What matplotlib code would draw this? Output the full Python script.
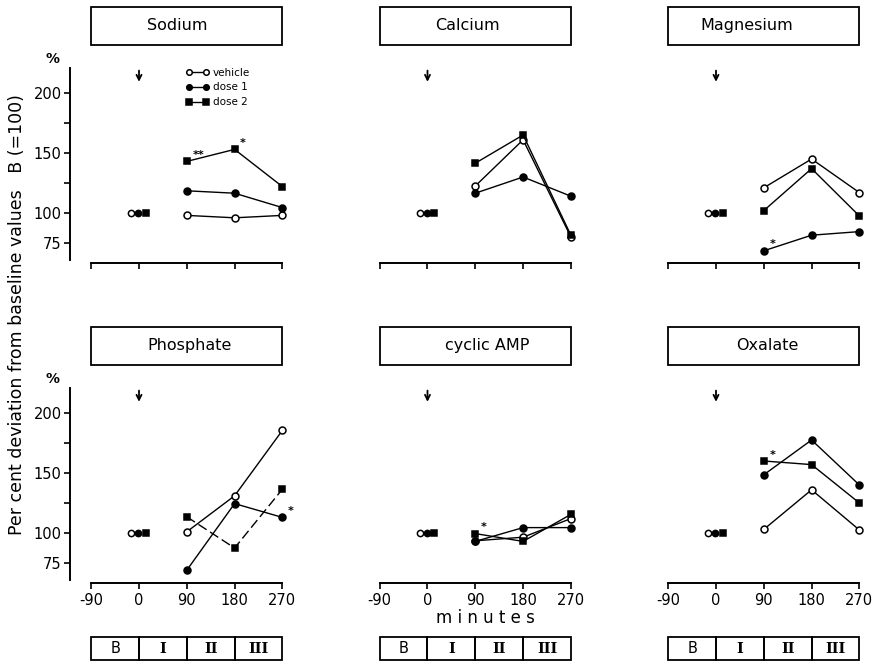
import matplotlib
matplotlib.use("Agg")
import matplotlib.pyplot as plt
from matplotlib.patches import Rectangle

# --- data: per cent of baseline (B = 100) ---
PANELS = ["Sodium", "Calcium", "Magnesium", "Phosphate", "cyclic AMP", "Oxalate"]
TIMES = [90, 180, 270]
BASELINE = 100

VEHICLE = [
    [98, 96, 98],
    [122.5, 161, 80],
    [121, 145, 117],
    [101, 131, 185.5],
    [93.5, 96.5, 112],
    [103, 136, 102.5],
]
DOSE1 = [
    [118.5, 116.5, 104.5],
    [116.5, 130, 114],
    [68.5, 81.5, 84.5],
    [69, 124.5, 113],
    [93, 104.5, 104.5],
    [148.5, 177.5, 140],
]
DOSE2 = [
    [143, 153, 122],
    [141.5, 165, 81.5],
    [102, 137, 97.5],
    [113.5, 87.5, 136.5],
    [99.5, 93, 115.5],
    [160, 157, 125],
]

# significance marks: (panel, series, time index, mark)
SIGNIF = [
    (0, "dose 2", 0, "**"),
    (0, "dose 2", 1, "*"),
    (2, "dose 1", 0, "*"),
    (3, "dose 1", 2, "*"),
    (4, "dose 2", 0, "*"),
    (5, "dose 2", 0, "*"),
]

XTICKS = [-90, 0, 90, 180, 270]
XTICK_LABELS = ["-90", "0", "90", "180", "270"]
YTICKS = [75, 100, 150, 200]
YTICKS_MINOR = [125, 175]
PERIODS = ["B", "I", "II", "III"]
PERIOD_EDGES = [-90, 0, 90, 180, 270]

# --- layout (pixels of an 872x667 figure) ---
W, H = 872, 667
COL_LEFT = [67.3, 355.8, 644.3]
ROW_BOTTOM = [263.4, 583.4]
AX_W, AX_H = 220.4, 200.4
TITLE_X = [72, 76, 57, 96, 112, 96]
BASE_DX = [-15, -1, 13]

STYLE = {
    "vehicle": dict(marker="o", mfc="white", mec="black"),
    "dose 1": dict(marker="o", mfc="black", mec="black"),
    "dose 2": dict(marker="s", mfc="black", mec="black"),
}


def setup_axes(ax, bottom_row, first_col):
    """Spines, ticks and limits of one panel."""
    ax.set_xlim(-135, 280)
    ax.set_ylim(58, 225)
    for s in ("top", "right"):
        ax.spines[s].set_visible(False)
    ax.spines["bottom"].set_bounds(-90, 270)
    ax.spines["bottom"].set_linewidth(1.4)
    ax.set_xticks(XTICKS)
    if bottom_row:
        ax.set_xticklabels(XTICK_LABELS)
    else:
        ax.set_xticklabels([])
    ax.tick_params(axis="x", length=4, width=1.2, labelsize=10.5, pad=3)
    if first_col:
        ax.spines["left"].set_position(("data", -130))
        ax.spines["left"].set_bounds(61, 221)
        ax.spines["left"].set_linewidth(1.4)
        ax.set_yticks(YTICKS)
        ax.set_yticks(YTICKS_MINOR, minor=True)
        ax.tick_params(axis="y", which="both", length=4, width=1.2,
                       labelsize=10.5, pad=2)
        ax.text(-162, 228, "%", fontsize=10, fontweight="bold",
                ha="center", va="center", clip_on=False)
    else:
        ax.spines["left"].set_visible(False)
        ax.set_yticks([])


def draw_panel(ax, i):
    """Draws the three series of one panel."""
    series = [("vehicle", VEHICLE[i]), ("dose 1", DOSE1[i]), ("dose 2", DOSE2[i])]
    lines = {}
    for (label, vals), dx in zip(series, BASE_DX):
        st = STYLE[label]
        ls = (0, (7, 3)) if (label == "dose 2" and PANELS[i] == "Phosphate") else "-"
        ax.plot(TIMES, vals, color="black", lw=1.0, ls=ls, ms=5,
                mew=1.1, label=label, **st)
        lines[label] = vals
        ax.plot([dx], [BASELINE], ls="none", ms=4.5, mew=1.1, **st)

    for p, lab, k, mark in SIGNIF:
        if p == i:
            ax.annotate(mark, (TIMES[k], lines[lab][k]), xytext=(4, 1),
                        textcoords="offset points", fontsize=8,
                        fontweight="bold", ha="left", va="bottom")

    # injection arrow at t = 0
    ax.annotate("", xy=(0, 207), xytext=(0, 221),
                arrowprops=dict(arrowstyle="->", lw=1.3, color="black",
                                mutation_scale=9))

    # title box
    ax.add_patch(Rectangle((-90, 240), 360, 32, fill=False, lw=1.3,
                           ec="black", clip_on=False))
    ax.text(TITLE_X[i], 256, PANELS[i], fontsize=11.5, ha="center",
            va="center", clip_on=False)


def draw_periods(ax):
    """Boxes of the collection periods under a bottom panel."""
    for k, name in enumerate(PERIODS):
        x0, x1 = PERIOD_EDGES[k], PERIOD_EDGES[k + 1]
        ax.add_patch(Rectangle((x0, -6), x1 - x0, 19, fill=False, lw=1.3,
                               ec="black", clip_on=False))
        fam = "DejaVu Sans" if name == "B" else "DejaVu Serif"
        ax.text((x0 + x1) / 2, 3.5, name, fontsize=10.5, family=fam,
                fontweight="bold" if name != "B" else "normal",
                ha="center", va="center", clip_on=False)


fig = plt.figure(figsize=(W / 100, H / 100), dpi=100)
axes = []
for i in range(6):
    row, col = divmod(i, 3)
    rect = [COL_LEFT[col] / W, 1 - ROW_BOTTOM[row] / H, AX_W / W, AX_H / H]
    ax = fig.add_axes(rect)
    ax.patch.set_alpha(0)
    setup_axes(ax, row == 1, col == 0)
    draw_panel(ax, i)
    if row == 1:
        draw_periods(ax)
    axes.append(ax)

leg = axes[0].legend(loc="upper left", bbox_to_anchor=(88, 221),
                     bbox_transform=axes[0].transData, frameon=False,
                     numpoints=2, fontsize=7.5, handlelength=2.2,
                     handletextpad=0.4, labelspacing=0.45, borderpad=0,
                     borderaxespad=0, markerscale=0.8)

fig.text(485 / W, 1 - 618 / H, "m i n u t e s", fontsize=12,
         ha="center", va="center")
fig.text(17 / W, 1 - 315 / H,
         "Per cent deviation from baseline values   B (=100)",
         fontsize=12.5, rotation=90, ha="center", va="center")

fig.savefig("out.png", dpi=100)
